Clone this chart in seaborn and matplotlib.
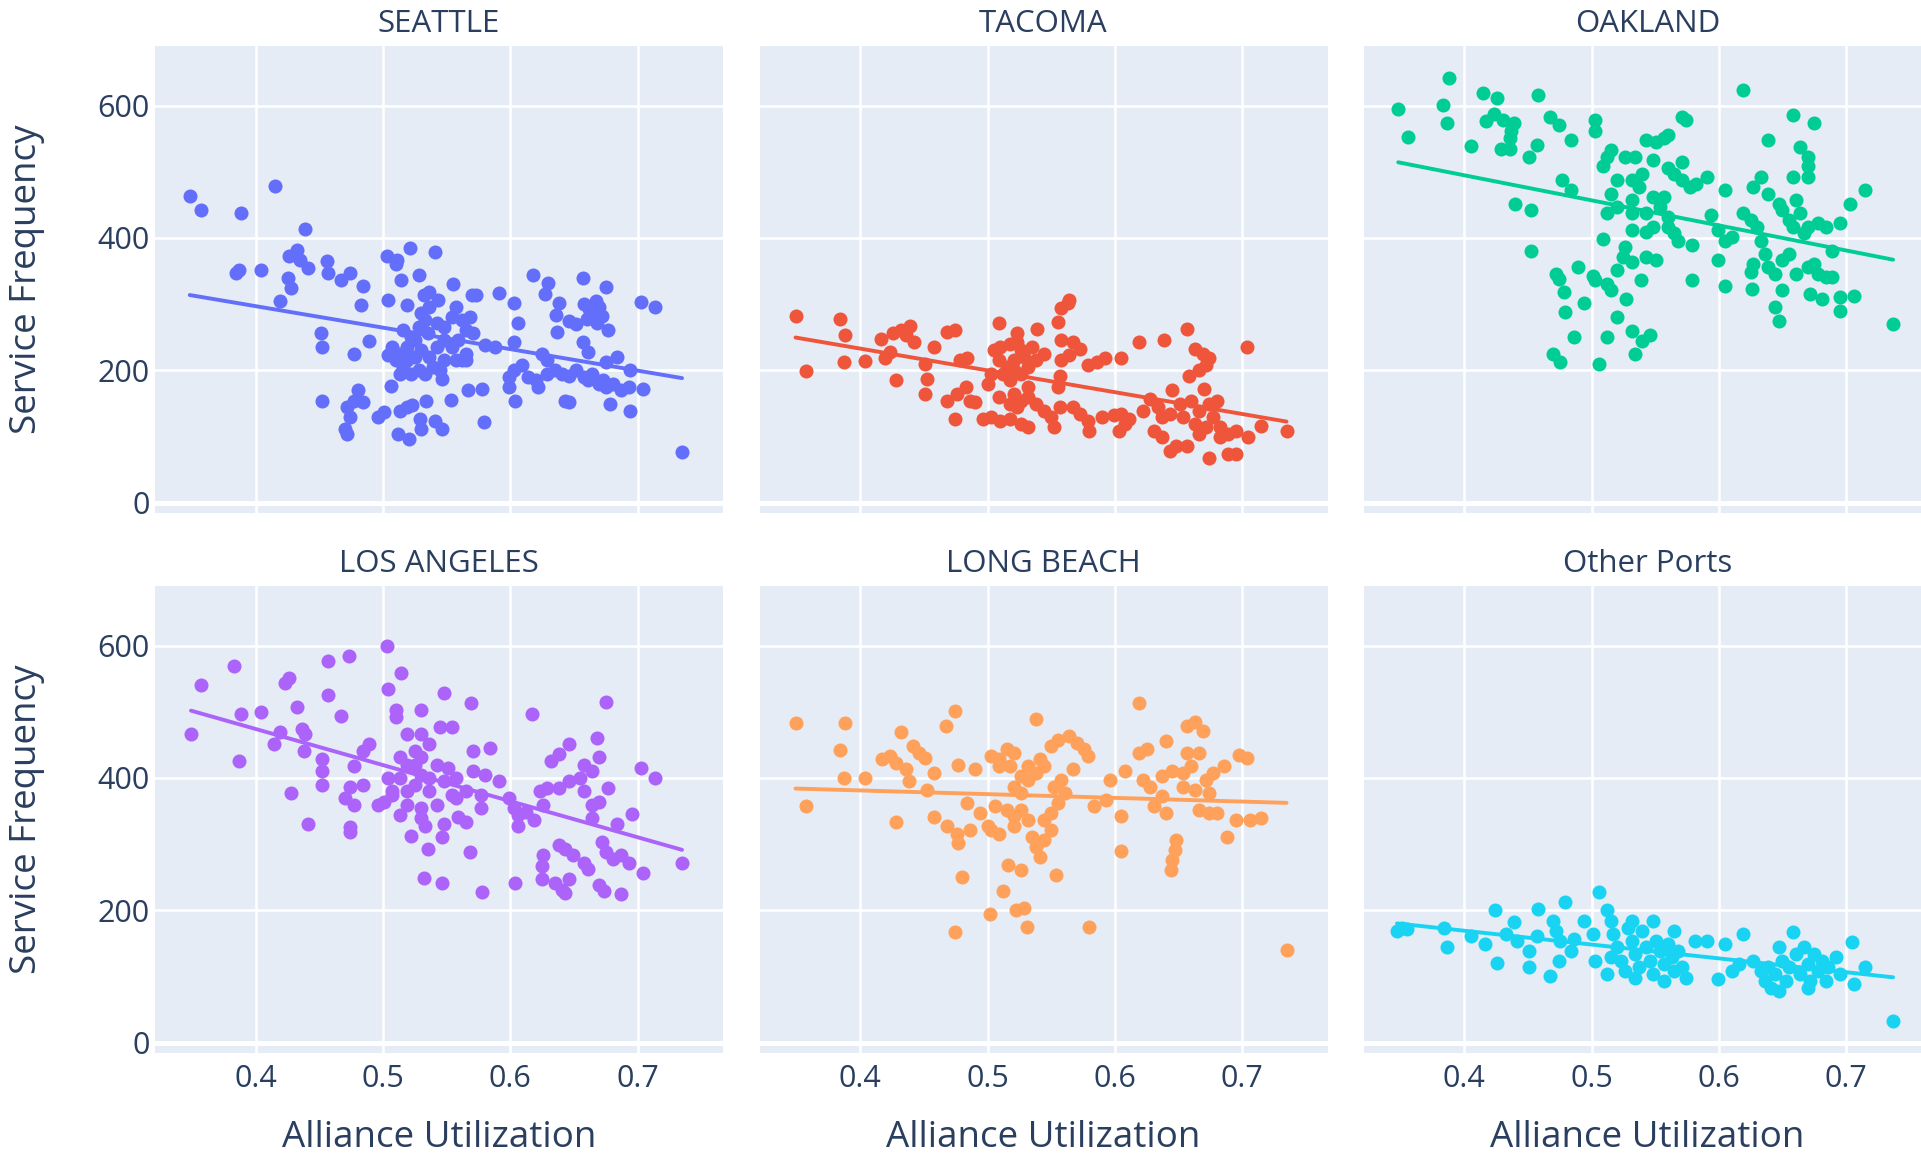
import matplotlib
matplotlib.use("Agg")
import matplotlib.pyplot as plt
import pandas as pd
import seaborn as sns

# ---- data: alliance utilization vs. service frequency per port ----
ports = ["SEATTLE", "TACOMA", "OAKLAND", "LOS ANGELES", "LONG BEACH", "Other Ports"]
port_colors = ["#636EFA", "#EF553B", "#00CC96", "#AB63FA", "#FFA15A", "#19D3F3"]

seattle_util = [
    0.348, 0.357, 0.388, 0.415, 0.439, 0.384, 0.387, 0.404, 0.426, 0.432,
    0.435, 0.441, 0.425, 0.428, 0.419, 0.456, 0.457, 0.467, 0.474, 0.484,
    0.483, 0.451, 0.452, 0.489, 0.477, 0.503, 0.510, 0.511, 0.521, 0.541,
    0.514, 0.528, 0.504, 0.519, 0.532, 0.536, 0.543, 0.555, 0.570, 0.573,
    0.591, 0.603, 0.606, 0.603, 0.618, 0.630, 0.627, 0.638, 0.636, 0.657,
    0.675, 0.658, 0.662, 0.667, 0.670, 0.664, 0.672, 0.660, 0.646, 0.652,
    0.668, 0.677, 0.657, 0.661, 0.637, 0.703, 0.714, 0.580, 0.588, 0.735,
    0.516, 0.522, 0.528, 0.533, 0.530, 0.536, 0.542, 0.548, 0.554, 0.557,
    0.562, 0.565, 0.568, 0.571, 0.507, 0.513, 0.519, 0.525, 0.530, 0.536,
    0.542, 0.548, 0.554, 0.559, 0.565, 0.510, 0.516, 0.522, 0.528, 0.533,
    0.539, 0.545, 0.548, 0.557, 0.562, 0.565, 0.519, 0.525, 0.535, 0.546,
    0.513, 0.504,
    0.599, 0.603, 0.609, 0.614, 0.620, 0.622, 0.629, 0.635, 0.641, 0.646,
    0.652, 0.658, 0.664, 0.661, 0.625, 0.629, 0.675, 0.684, 0.670, 0.675,
    0.681, 0.687, 0.693, 0.704, 0.694, 0.673,
    0.678, 0.694, 0.643, 0.646, 0.604, 0.599, 0.567, 0.578, 0.553, 0.506,
    0.452, 0.480, 0.477, 0.472, 0.474, 0.484, 0.496, 0.501, 0.470, 0.472,
    0.513, 0.519, 0.523, 0.529, 0.530, 0.512, 0.520, 0.534, 0.541, 0.546,
    0.579,
]
seattle_freq = [
    463, 442, 437, 478, 413, 347, 352, 351, 373, 382,
    367, 354, 339, 324, 305, 365, 347, 337, 347, 327,
    299, 256, 236, 245, 225, 372, 360, 367, 385, 379,
    337, 344, 307, 299, 314, 319, 306, 330, 314, 314,
    317, 301, 271, 243, 344, 332, 316, 301, 284, 339,
    326, 300, 292, 305, 296, 285, 282, 277, 275, 270,
    272, 261, 243, 228, 258, 304, 296, 238, 235, 77,
    261, 251, 266, 276, 286, 296, 271, 266, 281, 296,
    276, 261, 281, 256, 235, 225, 235, 246, 230, 220,
    235, 246, 235, 246, 225, 215, 205, 195, 200, 195,
    205, 200, 215, 215, 215, 215, 215, 220, 256, 187,
    195, 223,
    190, 200, 208, 190, 185, 175, 195, 200, 195, 192,
    200, 190, 195, 185, 225, 215, 213, 220, 180, 175,
    180, 170, 175, 172, 200, 185,
    149, 139, 154, 152, 154, 175, 170, 172, 155, 177,
    153, 170, 154, 144, 129, 152, 129, 137, 111, 104,
    139, 144, 147, 127, 111, 104, 96, 153, 124, 111,
    122,
]

tacoma_util = [
    0.349, 0.357, 0.384, 0.388, 0.387, 0.404, 0.416, 0.426, 0.432, 0.439,
    0.436, 0.442, 0.423, 0.419, 0.428, 0.451, 0.452, 0.451, 0.458, 0.468,
    0.474, 0.478, 0.484, 0.468, 0.476, 0.483, 0.474, 0.486, 0.490, 0.496,
    0.503, 0.510, 0.518, 0.526, 0.532, 0.500, 0.503, 0.509, 0.505, 0.510,
    0.518, 0.523, 0.526, 0.521, 0.515, 0.512, 0.518, 0.526, 0.532, 0.538,
    0.544, 0.535, 0.509, 0.521, 0.529, 0.523, 0.539, 0.521, 0.526, 0.532,
    0.538, 0.544, 0.550, 0.523, 0.518, 0.509, 0.532, 0.557, 0.555, 0.555,
    0.558, 0.563, 0.564, 0.558, 0.567, 0.573, 0.564, 0.558, 0.552, 0.557,
    0.567, 0.573, 0.579, 0.580, 0.579, 0.586, 0.592, 0.605, 0.619, 0.639,
    0.657, 0.663, 0.669, 0.674, 0.672, 0.666, 0.658, 0.670, 0.704, 0.590,
    0.599, 0.605, 0.608, 0.603, 0.611, 0.622, 0.628, 0.634, 0.637, 0.643,
    0.645, 0.651, 0.660, 0.666, 0.674, 0.680, 0.677, 0.683, 0.631, 0.637,
    0.643, 0.648, 0.657, 0.666, 0.674, 0.683, 0.689, 0.695, 0.689, 0.705,
    0.695, 0.715, 0.735, 0.654, 0.663, 0.672,
]
tacoma_freq = [
    282, 199, 277, 253, 213, 214, 248, 256, 261, 267,
    253, 243, 228, 218, 186, 210, 187, 165, 236, 258,
    261, 215, 218, 154, 165, 175, 127, 154, 152, 127,
    129, 124, 127, 119, 114, 180, 195, 271, 230, 235,
    240, 243, 230, 215, 205, 195, 185, 195, 205, 215,
    225, 235, 215, 200, 220, 256, 263, 165, 154, 159,
    149, 139, 129, 144, 149, 159, 175, 192, 175, 273,
    294, 301, 306, 246, 243, 233, 223, 215, 114, 144,
    144, 134, 124, 109, 208, 213, 218, 218, 243, 246,
    263, 233, 225, 218, 208, 200, 192, 172, 236, 129,
    132, 134, 119, 109, 127, 139, 157, 144, 129, 134,
    170, 149, 154, 139, 149, 154, 129, 114, 109, 99,
    78, 86, 86, 104, 68, 99, 73, 73, 104, 99,
    109, 116, 109, 129, 119, 114,
]

oakland_util = [
    0.348, 0.356, 0.388, 0.383, 0.386, 0.415, 0.426, 0.458, 0.423, 0.417,
    0.430, 0.439, 0.437, 0.436, 0.429, 0.436, 0.405, 0.457, 0.451, 0.467,
    0.474, 0.484, 0.503, 0.503, 0.477, 0.484, 0.440, 0.452, 0.452, 0.509,
    0.472, 0.474, 0.478, 0.479, 0.486, 0.470, 0.475, 0.489, 0.494, 0.501,
    0.503, 0.512, 0.515, 0.520, 0.512, 0.506, 0.527, 0.532, 0.540, 0.546,
    0.534,
    0.515, 0.512, 0.509, 0.526, 0.534, 0.543, 0.551, 0.557, 0.560, 0.548,
    0.571, 0.565, 0.560, 0.571, 0.577, 0.582, 0.591, 0.520, 0.532, 0.540,
    0.537, 0.515, 0.532, 0.548, 0.557, 0.520, 0.512, 0.532, 0.543, 0.554,
    0.560, 0.571, 0.574,
    0.532, 0.543, 0.548, 0.560, 0.565, 0.568, 0.526, 0.525, 0.532, 0.520,
    0.543, 0.551, 0.539, 0.579, 0.579,
    0.594, 0.605, 0.599, 0.605, 0.610, 0.599, 0.605, 0.619, 0.625, 0.630,
    0.633, 0.636, 0.627, 0.625, 0.626, 0.639, 0.644, 0.650, 0.644, 0.647,
    0.633, 0.627, 0.639, 0.619, 0.639, 0.658, 0.675, 0.664, 0.670, 0.670,
    0.658, 0.670,
    0.647, 0.650, 0.655, 0.661, 0.664, 0.670, 0.658, 0.667, 0.678, 0.684,
    0.695, 0.703, 0.715, 0.689, 0.655, 0.650, 0.661, 0.670, 0.675, 0.678,
    0.684, 0.689, 0.672, 0.681, 0.695, 0.706, 0.695, 0.737,
]
oakland_freq = [
    595, 552, 641, 601, 574, 619, 611, 616, 588, 576,
    578, 573, 561, 551, 535, 535, 539, 540, 523, 583,
    571, 548, 578, 561, 487, 472, 452, 442, 381, 399,
    346, 338, 318, 288, 251, 225, 212, 356, 301, 343,
    336, 331, 321, 280, 250, 210, 308, 260, 245, 253,
    225,
    533, 523, 508, 523, 523, 548, 545, 551, 556, 518,
    515, 497, 505, 487, 477, 482, 492, 487, 487, 497,
    477, 467, 457, 462, 462, 447, 437, 437, 437, 447,
    432, 583, 578,
    412, 409, 417, 417, 407, 396, 386, 371, 364, 351,
    371, 366, 336, 389, 336,
    434, 472, 412, 396, 402, 366, 328, 437, 427, 417,
    396, 376, 361, 348, 323, 356, 346, 321, 295, 275,
    492, 477, 467, 624, 548, 586, 573, 538, 523, 508,
    492, 492,
    452, 442, 427, 457, 437, 417, 417, 407, 422, 417,
    422, 452, 472, 381, 376, 366, 346, 356, 361, 346,
    341, 341, 316, 308, 311, 313, 290, 270,
]

los_angeles_util = [
    0.349, 0.357, 0.383, 0.387, 0.388, 0.404, 0.423, 0.426, 0.432, 0.419,
    0.414, 0.436, 0.439, 0.438, 0.428, 0.441, 0.457, 0.473, 0.457, 0.467,
    0.452, 0.452, 0.452, 0.477, 0.484, 0.489, 0.474, 0.470, 0.477, 0.484,
    0.474, 0.474, 0.503, 0.514, 0.504, 0.510, 0.510, 0.530, 0.548, 0.569,
    0.496, 0.501, 0.507, 0.513, 0.519, 0.525, 0.519, 0.530, 0.536, 0.545,
    0.554, 0.542, 0.551, 0.557, 0.519, 0.525, 0.536, 0.542, 0.530, 0.513,
    0.507, 0.519, 0.530, 0.536, 0.513, 0.525, 0.504, 0.530, 0.548, 0.554,
    0.571, 0.584, 0.571, 0.580, 0.565, 0.577, 0.577, 0.557,
    0.530, 0.533, 0.522, 0.535, 0.548, 0.546, 0.559, 0.565, 0.568,
    0.532, 0.546, 0.578, 0.604,
    0.591, 0.599, 0.603, 0.606, 0.612, 0.619, 0.606,
    0.617, 0.623, 0.629, 0.638, 0.626, 0.632, 0.638, 0.646, 0.646, 0.655,
    0.658, 0.664, 0.670, 0.668, 0.658, 0.664, 0.670, 0.677, 0.675, 0.664,
    0.684, 0.696, 0.703, 0.714,
    0.626, 0.625, 0.625, 0.638, 0.643, 0.649, 0.658, 0.661, 0.672, 0.675,
    0.681, 0.687, 0.693, 0.704, 0.635, 0.641, 0.646, 0.643, 0.670, 0.674,
    0.687, 0.735,
]
los_angeles_freq = [
    466, 540, 569, 426, 497, 500, 543, 551, 507, 469,
    451, 474, 466, 441, 377, 331, 576, 585, 525, 493,
    428, 410, 390, 418, 441, 451, 387, 369, 359, 390,
    326, 318, 599, 558, 535, 502, 492, 502, 528, 513,
    359, 364, 374, 400, 420, 441, 466, 466, 451, 477,
    477, 420, 415, 400, 380, 390, 380, 359, 354, 344,
    380, 359, 405, 400, 431, 420, 400, 431, 395, 374,
    441, 446, 410, 405, 380, 374, 354, 369,
    339, 328, 313, 293, 331, 311, 341, 334, 288,
    249, 242, 227, 242,
    395, 369, 354, 344, 349, 336, 328,
    497, 380, 385, 385, 359, 426, 436, 451, 395, 400,
    420, 410, 431, 461, 380, 359, 364, 385, 515, 339,
    331, 346, 415, 400,
    283, 267, 247, 298, 293, 283, 272, 262, 303, 288,
    277, 283, 272, 257, 242, 231, 247, 226, 239, 229,
    224, 271,
]

long_beach_util = [
    0.349, 0.357, 0.384, 0.388, 0.387, 0.404, 0.428, 0.432, 0.417, 0.423,
    0.428, 0.436, 0.438, 0.441, 0.446, 0.451, 0.452, 0.458, 0.458, 0.467,
    0.474, 0.477, 0.490, 0.468, 0.476, 0.477, 0.486, 0.484, 0.494, 0.500,
    0.480, 0.474, 0.502, 0.512, 0.522, 0.529, 0.531, 0.516, 0.526, 0.538,
    0.503, 0.509, 0.515, 0.521, 0.509, 0.518, 0.506, 0.515, 0.521, 0.526,
    0.503, 0.509, 0.521, 0.532, 0.521, 0.526, 0.532, 0.538, 0.532, 0.526,
    0.544, 0.541, 0.550, 0.555, 0.564, 0.570, 0.576, 0.579, 0.567, 0.558,
    0.552, 0.561, 0.555, 0.550, 0.544, 0.550, 0.544, 0.538, 0.541, 0.535,
    0.554, 0.580, 0.584, 0.593, 0.596, 0.608, 0.605, 0.605, 0.619, 0.619,
    0.625, 0.622, 0.628, 0.637, 0.637, 0.631, 0.640, 0.640, 0.645, 0.654,
    0.657, 0.666, 0.660, 0.654, 0.663, 0.672, 0.677, 0.686, 0.674, 0.666,
    0.674, 0.680, 0.657, 0.663, 0.669, 0.698, 0.704, 0.648, 0.647, 0.645,
    0.644, 0.688, 0.695, 0.706, 0.715, 0.735,
]
long_beach_freq = [
    483, 358, 442, 483, 400, 400, 334, 469, 428, 433,
    423, 413, 395, 448, 438, 430, 382, 408, 341, 479,
    501, 420, 413, 327, 316, 301, 322, 362, 347, 327,
    251, 167, 195, 229, 200, 203, 175, 268, 261, 489,
    433, 428, 443, 438, 418, 418, 357, 352, 342, 352,
    322, 316, 327, 337, 387, 377, 397, 408, 418, 403,
    418, 428, 448, 458, 463, 453, 443, 433, 413, 397,
    387, 377, 362, 347, 337, 322, 306, 296, 281, 311,
    253, 175, 357, 367, 397, 410, 342, 290, 514, 438,
    443, 397, 387, 403, 372, 357, 347, 456, 410, 408,
    438, 438, 418, 387, 382, 397, 408, 418, 377, 352,
    347, 347, 478, 484, 471, 435, 430, 306, 291, 276,
    261, 311, 337, 337, 339, 140,
]

other_util = [
    0.347, 0.351, 0.355, 0.384, 0.386, 0.405, 0.416, 0.424, 0.426, 0.439,
    0.433, 0.441, 0.451, 0.451, 0.458, 0.457, 0.467, 0.470, 0.472, 0.475,
    0.474, 0.479, 0.486, 0.484, 0.494, 0.506, 0.501, 0.503, 0.512, 0.515,
    0.517, 0.520, 0.523, 0.526, 0.529, 0.532, 0.534, 0.537, 0.540, 0.543,
    0.546, 0.548, 0.551, 0.554, 0.557, 0.560, 0.563, 0.565, 0.568, 0.571,
    0.574, 0.548, 0.532, 0.515, 0.512, 0.534, 0.557, 0.565,
    0.581, 0.591, 0.605, 0.619, 0.599, 0.610, 0.616, 0.658,
    0.627, 0.633, 0.636, 0.641, 0.644, 0.647, 0.650, 0.653, 0.655, 0.661,
    0.664, 0.667, 0.670, 0.672, 0.675, 0.678, 0.681, 0.684, 0.686, 0.692,
    0.695, 0.639, 0.647, 0.670, 0.705, 0.715, 0.706, 0.737,
]
other_freq = [
    169, 174, 172, 174, 145, 162, 149, 200, 120, 182,
    164, 154, 139, 114, 202, 162, 101, 184, 169, 154,
    124, 212, 157, 139, 184, 227, 164, 124, 200, 184,
    164, 144, 124, 109, 174, 154, 134, 114, 169, 144,
    124, 104, 154, 139, 119, 149, 129, 109, 139, 114,
    98, 184, 184, 129, 104, 98, 93, 169,
    154, 154, 149, 164, 96, 109, 119, 167,
    124, 109, 93, 83, 104, 144, 124, 93, 114, 134,
    104, 144, 119, 93, 134, 109, 124, 93, 114, 129,
    104, 114, 78, 83, 152, 114, 88, 33,
]

util_ticks = [0.4, 0.5, 0.6, 0.7]
util_tick_labels = ["0.4", "0.5", "0.6", "0.7"]
freq_ticks = [0, 200, 400, 600]
freq_tick_labels = ["0", "200", "400", "600"]

util_by_port = [seattle_util, tacoma_util, oakland_util,
                los_angeles_util, long_beach_util, other_util]
freq_by_port = [seattle_freq, tacoma_freq, oakland_freq,
                los_angeles_freq, long_beach_freq, other_freq]

df = pd.concat(
    [pd.DataFrame({"port": p, "util": u, "freq": f})
     for p, u, f in zip(ports, util_by_port, freq_by_port)],
    ignore_index=True,
)

# ---- styling ----
sns.set_theme(style="white")
plt.rcParams["font.family"] = ["Open Sans", "DejaVu Sans"]
TEXT = "#2a3f5f"
PANEL_BG = "#E5ECF6"

W, H = 1921, 1156
fig = plt.figure(figsize=(W / 100, H / 100), dpi=100)
fig.patch.set_facecolor("white")

col_left = [155, 759.5, 1363.5]
row_top = [46, 586]
pw, ph = 568, 467

for i, (port, color) in enumerate(zip(ports, port_colors)):
    r, c = divmod(i, 3)
    ax = fig.add_axes([col_left[c] / W, 1 - (row_top[r] + ph) / H, pw / W, ph / H])
    ax.set_facecolor(PANEL_BG)
    ax.set_axisbelow(True)

    sub = df[df["port"] == port]
    sns.regplot(
        data=sub, x="util", y="freq", ax=ax, ci=None, color=color,
        scatter_kws=dict(s=102, alpha=1, linewidths=0, zorder=3),
        line_kws=dict(lw=2.8, zorder=4),
    )

    ax.set_xlim(0.3207, 0.7672)
    ax.set_ylim(-15.5, 690)
    ax.set_xticks(util_ticks)
    ax.set_xticklabels(util_tick_labels)
    ax.set_yticks(freq_ticks)
    ax.set_yticklabels(freq_tick_labels)
    ax.grid(True, color="white", lw=1.8)
    ax.axhline(0, color="white", lw=3.6, zorder=1)
    ax.set_xlabel("")
    ax.set_ylabel("")
    for s in ax.spines.values():
        s.set_visible(False)
    ax.tick_params(axis="both", length=0, labelsize=22, colors=TEXT)
    ax.tick_params(axis="x", pad=8)
    ax.tick_params(axis="y", pad=4)
    if r == 0:
        ax.tick_params(labelbottom=False)
    if c > 0:
        ax.tick_params(labelleft=False)

    # facet title
    title_y = 24 if r == 0 else 564
    fig.text((col_left[c] + pw / 2) / W, 1 - title_y / H, port,
             ha="center", va="center", fontsize=22.5, color=TEXT)

# shared axis titles
for c in range(3):
    fig.text((col_left[c] + pw / 2) / W, 1 - 1138 / H, "Alliance Utilization",
             ha="center", va="center", fontsize=26.5, color=TEXT)
for r in range(2):
    fig.text(27 / W, 1 - (row_top[r] + ph / 2) / H, "Service Frequency",
             ha="center", va="center", rotation=90, fontsize=26.5, color=TEXT)

fig.savefig("out.png", dpi=100, facecolor="white")
